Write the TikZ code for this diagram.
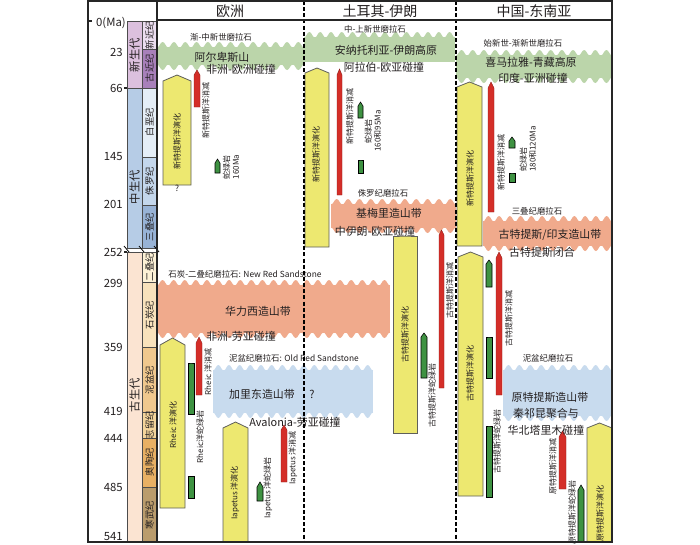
\documentclass[tikz,border=0pt]{standalone}
\usepackage{fontspec}
\setmainfont{Noto Sans CJK SC}
\definecolor{txt}{RGB}{35,31,32}
\definecolor{cCenoE}{RGB}{220,192,222}
\definecolor{cNeo}{RGB}{236,222,240}
\definecolor{cPal}{RGB}{168,128,186}
\definecolor{cMesoE}{RGB}{182,204,230}
\definecolor{cCre}{RGB}{229,238,247}
\definecolor{cJur}{RGB}{196,215,236}
\definecolor{cTri}{RGB}{152,179,214}
\definecolor{cPaleoE}{RGB}{251,228,210}
\definecolor{cPer}{RGB}{252,241,214}
\definecolor{cCar}{RGB}{248,226,188}
\definecolor{cDev}{RGB}{240,200,142}
\definecolor{cSil}{RGB}{243,212,155}
\definecolor{cOrd}{RGB}{232,176,100}
\definecolor{cCam}{RGB}{186,156,108}
\definecolor{cGrnB}{RGB}{187,213,170}
\definecolor{cOrgB}{RGB}{240,170,140}
\definecolor{cBluB}{RGB}{200,219,238}
\definecolor{cYel}{RGB}{237,232,112}
\definecolor{cYelD}{RGB}{95,95,90}
\definecolor{cRed}{RGB}{212,46,40}
\definecolor{cRedD}{RGB}{140,30,25}
\definecolor{cGrn}{RGB}{62,146,66}
\newcommand\mybar[6]{\filldraw[#1] (#2,#5) -- (#2,{#4+#6}) -- ({(#2+#3)/2},#4) -- (#3,{#4+#6}) -- (#3,#5) -- cycle;}
\newcommand\myband[7]{%
  \pgfmathtruncatemacro\bn{round((#3-#2)/11)}%
  \pgfmathsetmacro\bs{(#3-#2)/\bn}%
  \fill[#1] (#2,{#4+5}) rectangle (#3,{#5-5});
  \ifnum#6=1
  \foreach \i in {1,...,\bn}{\fill[#1] ({#2+(\i-1)*\bs},{#4+5.5}) .. controls ({#2+(\i-0.78)*\bs},{#4+5.5}) and ({#2+(\i-0.72)*\bs},{#4}) .. ({#2+(\i-0.5)*\bs},{#4}) .. controls ({#2+(\i-0.28)*\bs},{#4}) and ({#2+(\i-0.22)*\bs},{#4+5.5}) .. ({#2+\i*\bs},{#4+5.5}) -- cycle;}
  \fi
  \ifnum#7=1
  \foreach \i in {1,...,\bn}{\fill[#1] ({#2+(\i-1)*\bs},{#5-5.5}) .. controls ({#2+(\i-0.78)*\bs},{#5-5.5}) and ({#2+(\i-0.72)*\bs},{#5}) .. ({#2+(\i-0.5)*\bs},{#5}) .. controls ({#2+(\i-0.28)*\bs},{#5}) and ({#2+(\i-0.22)*\bs},{#5-5.5}) .. ({#2+\i*\bs},{#5-5.5}) -- cycle;}
  \fi
}
\begin{document}
\begin{tikzpicture}[x=0.75pt,y=-0.75pt,
  every node/.style={text=txt, inner sep=0pt},
  hdr/.style={font=\fontsize{10.5}{12}\selectfont},
  bl/.style={font=\fontsize{8.2}{9.5}\selectfont},
  sl/.style={font=\fontsize{6.3}{7}\selectfont},
  vl/.style={font=\fontsize{6}{7}\selectfont, rotate=90},
  ma/.style={font=\fontsize{8.5}{10}\selectfont, anchor=east},
  era/.style={font=\fontsize{8.5}{10}\selectfont, rotate=90},
  per/.style={font=\fontsize{7}{8}\selectfont, rotate=90},
  yelbar/.style={fill=cYel, draw=cYelD, line width=0.6pt},
  redbar/.style={fill=cRed, draw=cRedD, line width=0.3pt},
  grnbar/.style={fill=cGrn},
  frame/.style={draw=black!85, line width=0.8pt},
  dline/.style={draw=black, line width=1pt, dash pattern=on 3pt off 1.6pt},
  cell/.style={draw=black!70, line width=0.5pt}]
\useasboundingbox (0,0) rectangle (700,544);
\fill[white] (0,0) rectangle (700,544);

% ---------- time scale ----------
\filldraw[cell, fill=cCenoE] (127,21) rectangle (142,88);
\filldraw[cell, fill=cMesoE] (127,88) rectangle (142,248);
\filldraw[cell, fill=cPaleoE] (127,252) rectangle (142,542);
\foreach \ya/\yb/\c in {21/49/cNeo, 49/88/cPal, 88/157/cCre, 157/205/cJur, 205/248/cTri, 252/282/cPer, 282/347/cCar, 347/412/cDev, 412/438/cSil, 438/487/cOrd, 487/542/cCam}
  \filldraw[cell, fill=\c] (142,\ya) rectangle (157,\yb);
\foreach \xx in {127,142,157} \draw[black, line width=0.6pt] (\xx-3,246) -- (\xx+2,252);
\draw[frame] (88,21) -- (92,21);
\draw[frame] (124,88) -- (127,88);
\draw[frame] (124,252) -- (127,252);

\node[ma] (m0) at (126,23) {0(Ma)};
\node[ma] (m23) at (123,52) {23};
\node[ma] (m66) at (123,88) {66};
\node[ma] (m145) at (123,157) {145};
\node[ma] (m201) at (123,204) {201};
\node[ma] (m252) at (123,252) {252};
\node[ma] (m299) at (123,283) {299};
\node[ma] (m359) at (123,347) {359};
\node[ma] (m419) at (123,411) {419};
\node[ma] (m444) at (123,438) {444};
\node[ma] (m485) at (123,487) {485};
\node[ma] (m541) at (123,537) {541};

\node[era] (e1) at (134.5,55) {新生代};
\node[era] (e2) at (134.5,187) {中生代};
\node[era] (e3) at (134.5,395) {古生代};
\node[per] (p1) at (149.5,35) {新近纪};
\node[per] (p2) at (149.5,68) {古近纪};
\node[per] (p3) at (149.5,122) {白垩纪};
\node[per] (p4) at (149.5,181) {侏罗纪};
\node[per] (p5) at (149.5,227) {三叠纪};
\node[per] (p6) at (149.5,267) {二叠纪};
\node[per] (p7) at (149.5,315) {石炭纪};
\node[per] (p8) at (149.5,380) {泥盆纪};
\node[per] (p9) at (149.5,425) {志留纪};
\node[per] (p10) at (149.5,462) {奥陶纪};
\node[per] (p11) at (149.5,515) {寒武纪};

% ---------- bands ----------
\myband{cGrnB}{157}{304}{42}{70}{1}{1}
\myband{cGrnB}{304}{455}{32}{67}{1}{0}
\myband{cGrnB}{456}{612}{50}{83}{1}{1}
\myband{cOrgB}{331}{456}{199}{233}{1}{1}
\myband{cOrgB}{483}{612}{216}{251}{1}{1}
\myband{cOrgB}{157}{390}{280}{338}{1}{1}
\myband{cBluB}{213}{373}{365}{418}{1}{1}
\myband{cBluB}{503}{612}{365}{421}{1}{1}

% ---------- bars: Europe ----------
\mybar{yelbar}{163}{191}{75}{185}{6}
\mybar{redbar}{194}{200}{70}{107}{5}
\mybar{grnbar}{215}{220}{159}{173}{4}
\mybar{yelbar}{160}{185}{338}{508}{7}
\mybar{grnbar}{188}{194}{363}{414}{0}
\mybar{grnbar}{188}{194}{476}{498}{0}
\mybar{redbar}{196}{202}{337}{395}{6}
\mybar{yelbar}{223}{248}{422}{542}{6}
\mybar{grnbar}{257}{263}{482}{501}{5}
\mybar{redbar}{281}{287}{425}{482}{5}
% ---------- bars: Turkey-Iran ----------
\mybar{yelbar}{305}{329}{68}{247}{5}
\mybar{redbar}{337}{342}{69}{195}{6}
\mybar{grnbar}{358}{363}{102}{118}{4}
\mybar{grnbar}{358}{363}{160}{173}{0}
\mybar{yelbar}{393}{417}{236}{433}{0}
\mybar{redbar}{439}{444}{230}{388}{5}
\mybar{grnbar}{421}{427}{333}{378}{4}
% ---------- bars: China-SE Asia ----------
\mybar{yelbar}{457}{482}{82}{246}{5}
\mybar{redbar}{488}{494}{82}{212}{6}
\mybar{grnbar}{509}{515}{137}{148}{4}
\mybar{grnbar}{509}{515}{173}{182}{0}
\mybar{yelbar}{458}{483}{252}{496}{5}
\mybar{grnbar}{486}{492}{260}{287}{4}
\mybar{grnbar}{486}{492}{337}{378}{0}
\mybar{grnbar}{486}{492}{426}{497}{0}
\mybar{redbar}{496}{502}{252}{395}{6}
\mybar{redbar}{559}{566}{431}{489}{6}
\mybar{grnbar}{578}{584}{485}{542}{5}
\mybar{yelbar}{587}{612}{423}{542}{5}

% ---------- band labels ----------
\node[sl] (a1) at (221,37) {渐-中新世磨拉石};
\node[bl] (a2) at (222,57) {阿尔卑斯山};
\node[bl] (a3) at (241,69) {非洲-欧洲碰撞};
\node[sl] (b1) at (375,29) {中-上新世磨拉石};
\node[bl] (b2) at (386,50) {安纳托利亚-伊朗高原};
\node[bl] (b3) at (384,67) {阿拉伯-欧亚碰撞};
\node[sl] (c1) at (523,43) {始新世-渐新世磨拉石};
\node[bl] (c2) at (531,62) {喜马拉雅-青藏高原};
\node[bl] (c3) at (533,78) {印度-亚洲碰撞};
\node[sl] (b4) at (383,193) {侏罗纪磨拉石};
\node[bl] (b5) at (389,213) {基梅里造山带};
\node[bl] (b6) at (375,231) {中伊朗-欧亚碰撞};
\node[sl] (c4) at (537,211) {三叠纪磨拉石};
\node[bl] (c5) at (550,235) {古特提斯/印支造山带};
\node[bl] (c6) at (542,252) {古特提斯闭合};
\node[sl] (a4) at (245,274) {石炭-二叠纪磨拉石: New Red Sandstone};
\node[bl] (a5) at (258,311) {华力西造山带};
\node[bl] (a6) at (241,336) {非洲-劳亚碰撞};
\node[sl] (a7) at (294,358) {泥盆纪磨拉石: Old Red Sandstone};
\node[bl] (a8) at (262,394) {加里东造山带};
\node[bl] (a9) at (312,394) {?};
\node[bl] (a10) at (295,422) {Avalonia-劳亚碰撞};
\node[sl] (c7) at (548,358) {泥盆纪磨拉石};
\node[bl] (c8) at (550,397) {原特提斯造山带};
\node[bl] (c9) at (546,413) {秦祁昆聚合与};
\node[bl] (c10) at (546,430) {华北塔里木碰撞};

% ---------- bar labels ----------
\node[vl] (v1) at (177,141) {新特提斯洋演化};
\node[sl] (q1) at (177,188) {?};
\node[vl] (v2) at (206,110) {新特提斯洋消减};
\node[vl, align=center] (v3) at (231,167) {蛇绿岩\\160Ma};
\node[vl] (v4) at (173,425) {Rheic 洋演化};
\node[vl] (v5) at (200,437) {Rheic洋蛇绿岩};
\node[vl] (v6) at (208,372) {Rheic 洋消减};
\node[vl] (v7) at (235,493) {Iapetus 洋演化};
\node[vl] (v8) at (268,488) {Iapetus 洋蛇绿岩};
\node[vl] (v9) at (293,458) {Iapetus 洋消减};
\node[vl] (v10) at (316,154) {新特提斯洋演化};
\node[vl] (v11) at (350,116) {新特提斯洋消减};
\node[vl, align=center] (v12) at (373,131) {蛇绿岩\\160和95Ma};
\node[vl] (v13) at (405,334) {古特提斯洋演化};
\node[vl] (v14) at (450,290) {古特提斯洋消减};
\node[vl] (v15) at (432,395) {古特提斯洋蛇绿岩};
\node[vl] (v16) at (470,178) {新特提斯洋演化};
\node[vl] (v17) at (501,162) {新特提斯洋消减};
\node[vl, align=left] (v18) at (528,149) {蛇绿岩\\180和120Ma};
\node[vl] (v19) at (470,373) {古特提斯洋演化};
\node[vl] (v20) at (509,318) {古特提斯洋消减};
\node[vl] (v21) at (497,441) {古特提斯洋蛇绿岩};
\node[vl] (v22) at (553,466) {原特提斯洋消减};
\node[vl] (v23) at (572,512) {原特提斯洋蛇绿岩};
\node[vl] (v24) at (600,513) {原特提斯洋演化};

% ---------- frame ----------
\draw[dline] (304,1) -- (304,542);
\draw[dline] (456,1) -- (456,542);
\draw[frame] (88,1) rectangle (612,542);
\draw[frame] (157,1) -- (157,542);
\draw[frame] (157,20) -- (612,20);
\node[hdr] (h1) at (230,11) {欧洲};
\node[hdr] (h2) at (380,11) {土耳其-伊朗};
\node[hdr] (h3) at (534,11) {中国-东南亚};
\end{tikzpicture}
\end{document}
